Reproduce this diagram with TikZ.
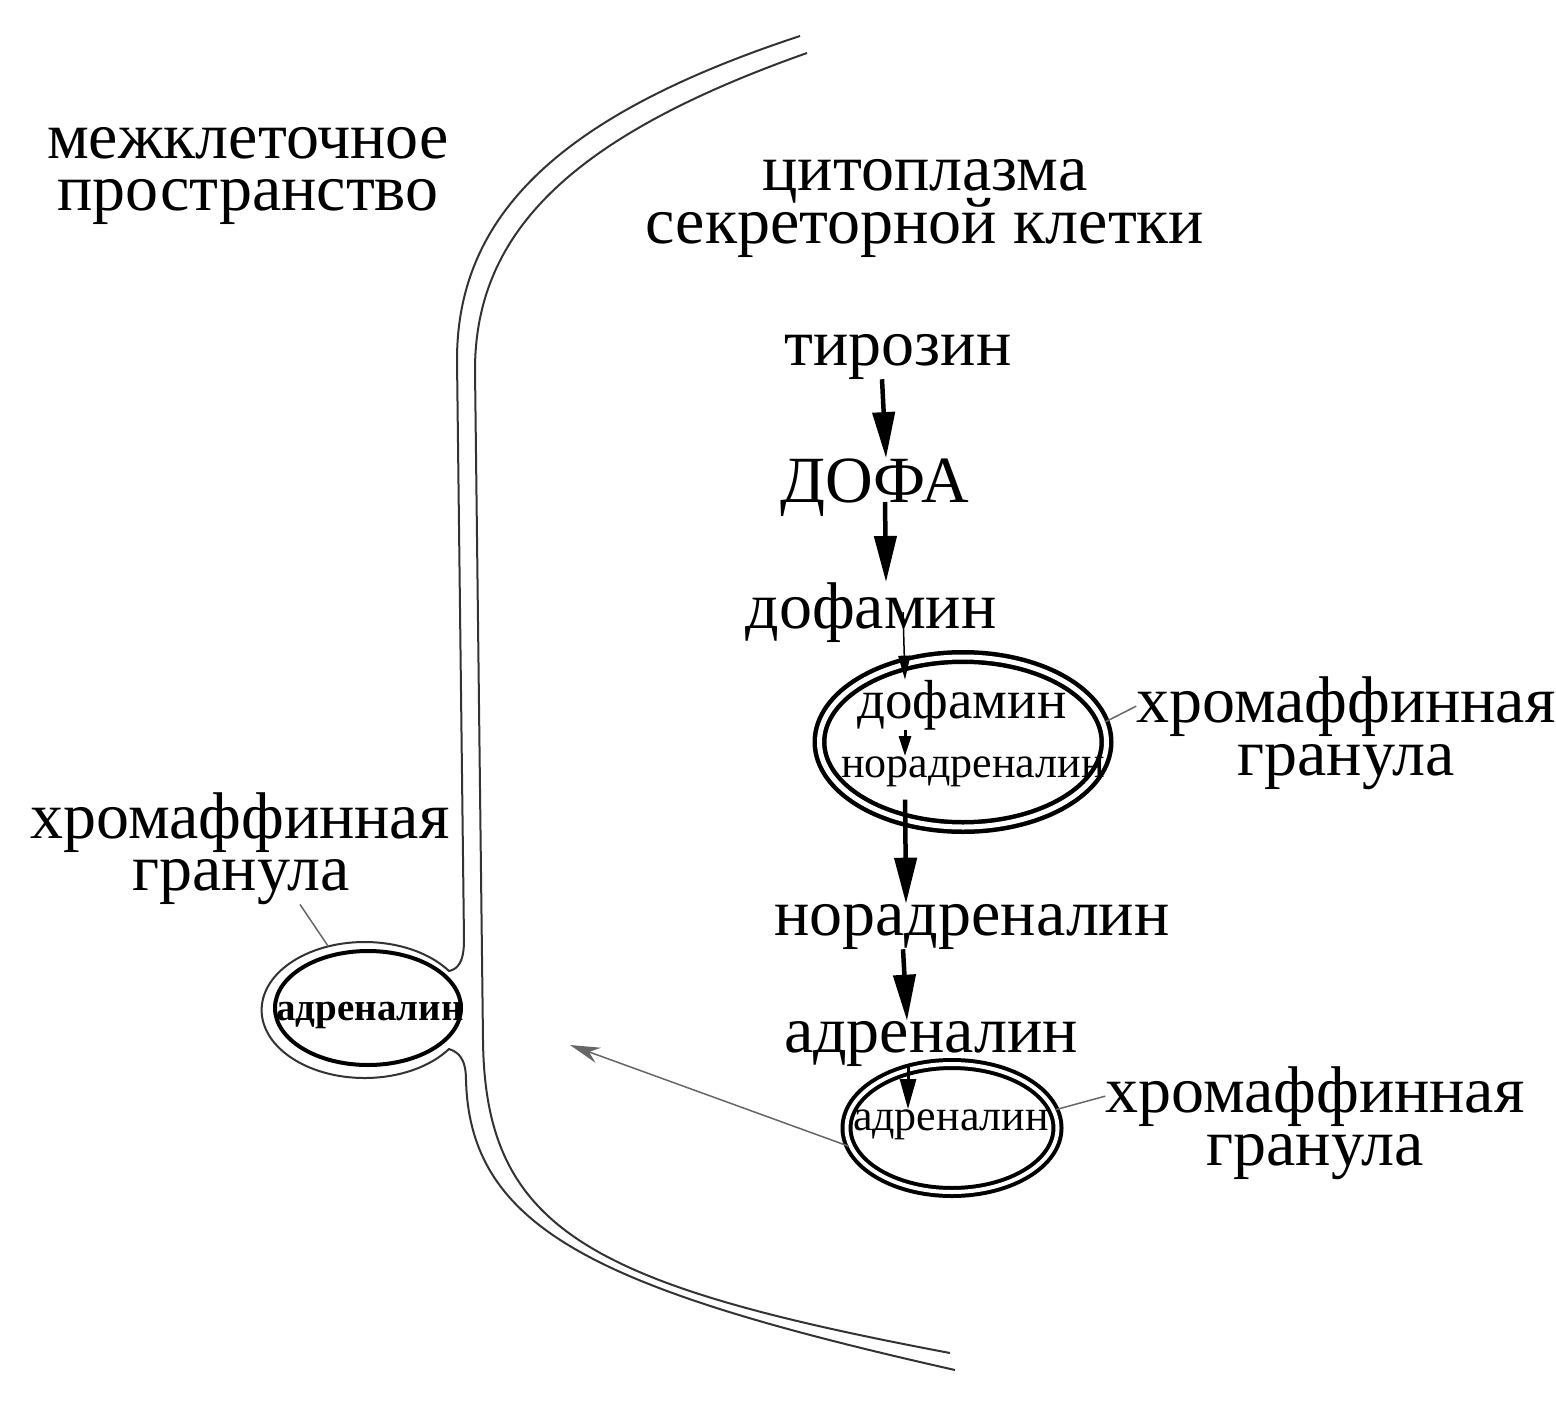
\documentclass[tikz,border=0pt]{standalone}
\usepackage{fontspec}
\setmainfont{Liberation Serif}
\usetikzlibrary{arrows.meta,shapes.geometric}
\begin{document}
\begin{tikzpicture}[x=1pt,y=-1pt,
  lbl/.style={font=\fontsize{66}{66}\selectfont,inner sep=0pt,anchor=base},
  sml/.style={font=\fontsize{44}{44}\selectfont,inner sep=0pt,anchor=base},
  flow/.style={line width=4.5pt,-{Triangle[length=46pt,width=22pt]}},
  midflow/.style={line width=3pt,-{Triangle[length=30pt,width=16pt]}},
  thinflow/.style={line width=1.5pt,-{Triangle[length=24pt,width=12pt]}},
  tinyflow/.style={line width=3pt,-{Triangle[length=20pt,width=12pt]}},
  membr/.style={line width=2pt,black!80},
  ptr/.style={line width=1.5pt,black!60},
  granule/.style={ellipse,draw,line width=4.5pt,double,double distance=5pt,inner sep=0pt}]
\useasboundingbox (0,0) rectangle (1556,1421);
\draw[membr] (800,36) .. controls (560,115) and (457,215) .. (457,360) -- (464,940)
  .. controls (464,962) and (458,969) .. (449,971)
  arc[start angle=-35,end angle=-325,x radius=103,y radius=68]
  .. controls (458,1052) and (466,1058) .. (466,1080)
  .. controls (470,1230) and (600,1290) .. (955,1370);
\draw[membr] (807,53) .. controls (575,135) and (475,230) .. (475,370) -- (483,1040)
  .. controls (485,1230) and (590,1285) .. (950,1353);
\node[lbl] (inter1) at (248,158) {межклеточное};
\node[lbl] (inter2) at (248,210) {пространство};
\node[lbl] (cyto1) at (925,190) {цитоплазма};
\node[lbl] (cyto2) at (925,243) {секреторной клетки};
\node[lbl] (tyr) at (898,365) {тирозин};
\node[lbl] (dopa) at (875,502) {ДОФА};
\node[lbl] (dopam) at (871,628) {дофамин};
\node[granule,minimum width=287pt,minimum height=170pt] (gr1) at (963,742) {};
\node[sml,font=\fontsize{55}{55}\selectfont] (gdopam) at (962,718) {дофамин};
\node[sml] (gnor) at (973,777) {норадреналин};
\node[lbl] (gran1a) at (1346,722) {хромаффинная};
\node[lbl] (gran1b) at (1346,775) {гранула};
\node[lbl] (nor) at (972,935) {норадреналин};
\node[lbl] (adr) at (931,1052) {адреналин};
\node[granule,line width=4pt,double distance=4pt,minimum width=211pt,minimum height=128pt] (gr2) at (952,1128) {};
\node[sml] (gadr) at (951,1130) {адреналин};
\node[lbl] (gran2a) at (1315,1112) {хромаффинная};
\node[lbl] (gran2b) at (1315,1165) {гранула};
\node[lbl] (gran3a) at (240,838) {хромаффинная};
\node[lbl] (gran3b) at (241,890) {гранула};
\node[ellipse,minimum width=206pt,minimum height=136pt,inner sep=0pt] (grl) at (365,1010) {};
\node[ellipse,draw,line width=4pt,minimum width=186pt,minimum height=114pt,inner sep=0pt] (grli) at (368,1008) {};
\node[sml,font=\fontsize{39}{39}\selectfont\bfseries] (gladr) at (370,1020) {адреналин};
\coordinate (exo) at (570,1045);
\draw[flow] ([xshift=-16pt]tyr.south) -- ([xshift=11pt]dopa.north);
\draw[flow] ([xshift=10pt]dopa.base) -- ([xshift=15pt]dopam.north);
\draw[thinflow] ([xshift=32pt]dopam.center) -- ([xshift=-57pt]gdopam.north);
\draw[tinyflow] ([xshift=-57pt]gdopam.south) -- ([xshift=-68pt]gnor.north);
\draw[flow,shorten <=13pt] ([xshift=-68pt]gnor.south) -- ([xshift=-66pt]nor.north);
\draw[flow] ([xshift=-69pt]nor.south) -- ([xshift=-24pt]adr.north);
\draw[midflow] ([xshift=-23pt]adr.south) -- ([xshift=-43pt]gadr.north);
\draw[ptr,-{Stealth[length=30pt,width=16pt]}] (gr2.190) -- (exo);
\draw[ptr] (gr1.8) -- (gran1a.west);
\draw[ptr] (gr2.10) -- (gran2a.west);
\draw[ptr] ([xshift=59pt]gran3b.south) -- (grl.120);
\end{tikzpicture}
\end{document}
